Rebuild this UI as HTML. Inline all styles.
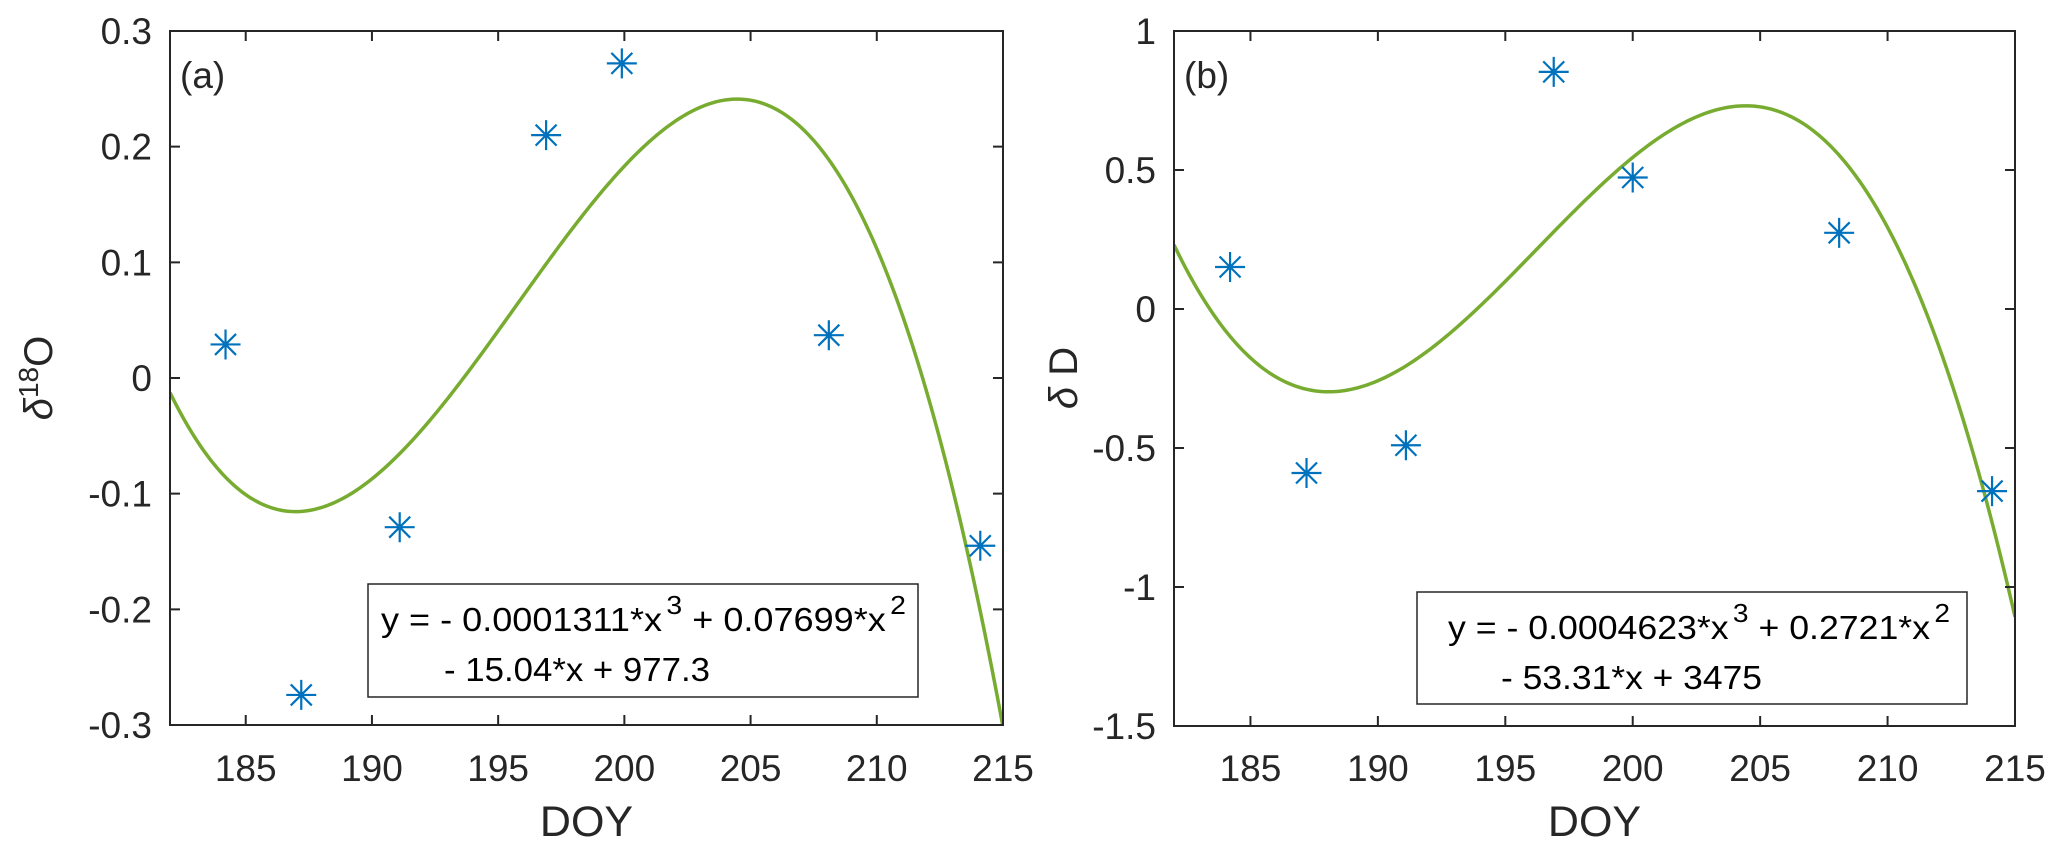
<!DOCTYPE html>
<html><head><meta charset="utf-8"><style>
html,body{margin:0;padding:0;background:#fff;}
svg{display:block;font-family:"Liberation Sans",sans-serif;}
</style></head><body>
<svg id="chart" width="2067" height="853" viewBox="0 0 2067 853" xmlns="http://www.w3.org/2000/svg"></svg>
<script>
const doyA = [184.2, 187.2, 191.1, 196.9, 199.9, 208.1, 214.1];
const d18O = [0.029, -0.274, -0.129, 0.21, 0.272, 0.037, -0.145];
const doyB = [184.2, 187.2, 191.1, 196.9, 200.0, 208.1, 214.1];
const dD = [0.151, -0.59, -0.49, 0.853, 0.473, 0.274, -0.655];
const xTicks = [185, 190, 195, 200, 205, 210, 215];
const yTicksA = [-0.3, -0.2, -0.1, 0, 0.1, 0.2, 0.3];
const yTickLabelsA = ["-0.3", "-0.2", "-0.1", "0", "0.1", "0.2", "0.3"];
const yTicksB = [-1.5, -1, -0.5, 0, 0.5, 1];
const yTickLabelsB = ["-1.5", "-1", "-0.5", "0", "0.5", "1"];

const NS = "http://www.w3.org/2000/svg";
const svg = document.getElementById("chart");
function mk(tag, attrs, parent) {
  const e = document.createElementNS(NS, tag);
  for (const k in attrs) e.setAttribute(k, attrs[k]);
  (parent || svg).appendChild(e);
  return e;
}
function cubicFit(xs, ys) {
  const m = xs.reduce((a, b) => a + b, 0) / xs.length;
  const A = [[0,0,0,0],[0,0,0,0],[0,0,0,0],[0,0,0,0]], B = [0,0,0,0];
  xs.forEach((x, i) => {
    const t = x - m, p = [1, t, t*t, t*t*t];
    for (let r = 0; r < 4; r++) { B[r] += p[r]*ys[i]; for (let c = 0; c < 4; c++) A[r][c] += p[r]*p[c]; }
  });
  for (let i = 0; i < 4; i++) {
    let piv = i; for (let r = i+1; r < 4; r++) if (Math.abs(A[r][i]) > Math.abs(A[piv][i])) piv = r;
    [A[i], A[piv]] = [A[piv], A[i]]; [B[i], B[piv]] = [B[piv], B[i]];
    for (let r = 0; r < 4; r++) if (r !== i) {
      const f = A[r][i] / A[i][i];
      for (let c = 0; c < 4; c++) A[r][c] -= f*A[i][c]; B[r] -= f*B[i];
    }
  }
  const co = B.map((b, i) => b / A[i][i]);
  return x => { const t = x - m; return co[0] + co[1]*t + co[2]*t*t + co[3]*t*t*t; };
}

function panel(cfg) {
  const g = mk("g", {});
  
  
  const X = v => cfg.x0 + (v - 182) / 33 * (cfg.x1 - cfg.x0);
  const Y = v => cfg.y1 - (v - cfg.ymin) / (cfg.ymax - cfg.ymin) * (cfg.y1 - cfg.y0);
  const cid = cfg.name + "-clip";
  const cp = mk("clipPath", {id: cid}, g);
  mk("rect", {x: cfg.x0, y: cfg.y0, width: cfg.x1 - cfg.x0, height: cfg.y1 - cfg.y0}, cp);
  const f = cubicFit(cfg.xs, cfg.ys);
  let d = "";
  for (let i = 0; i <= 300; i++) {
    const v = 182 + 33 * i / 300;
    d += (i ? "L" : "M") + X(v).toFixed(2) + "," + Y(f(v)).toFixed(2);
  }
  const curve = mk("path", {d: d, fill: "none", stroke: "#77AC30", "stroke-width": 3.5, "clip-path": "url(#" + cid + ")"}, g);
  
  
  cfg.xs.forEach((xv, i) => {
    const cx = X(xv), cy = Y(cfg.ys[i]), r = 15, q = 10.5;
    const s = mk("path", {d: `M${cx-r},${cy}H${cx+r}M${cx},${cy-r}V${cy+r}M${cx-q},${cy-q}L${cx+q},${cy+q}M${cx-q},${cy+q}L${cx+q},${cy-q}`, stroke: "#0072BD", "stroke-width": 2.2, fill: "none"}, g);
    
    
  });
  const box = mk("rect", {x: cfg.x0, y: cfg.y0, width: cfg.x1 - cfg.x0, height: cfg.y1 - cfg.y0, fill: "none", stroke: "#262626", "stroke-width": 2}, g);
  
  
  xTicks.forEach(t => {
    const x = X(t);
    mk("path", {d: `M${x},${cfg.y1}v-10M${x},${cfg.y0}v10`, stroke: "#262626", "stroke-width": 2}, g);
    const tl = mk("text", {x: x, y: 781, "font-size": 37, "text-anchor": "middle", fill: "#262626"}, g);
    tl.textContent = String(t);
    
    
  });
  cfg.yt.forEach((t, i) => {
    const y = Y(t);
    mk("path", {d: `M${cfg.x0},${y}h10M${cfg.x1},${y}h-10`, stroke: "#262626", "stroke-width": 2}, g);
    const tl = mk("text", {x: cfg.x0 - 18, y: y + 13, "font-size": 37, "text-anchor": "end", fill: "#262626"}, g);
    tl.textContent = cfg.ytl[i];
    
    
  });
  const xl = mk("text", {x: (cfg.x0 + cfg.x1) / 2, y: 836, "font-size": 43, "text-anchor": "middle", fill: "#262626"}, g);
  xl.textContent = "DOY";
  
  
  const pl = mk("text", {x: cfg.x0 + 10, y: 88, "font-size": 37, fill: "#262626"}, g);
  pl.textContent = cfg.label;
  
  
  const eb = mk("rect", {x: cfg.bx0, y: cfg.by0, width: cfg.bx1 - cfg.bx0, height: cfg.by1 - cfg.by0, fill: "#fff", stroke: "#262626", "stroke-width": 1.5}, g);
  
  
  const e1 = mk("text", {x: cfg.l1x, y: cfg.by0 + 47, "font-size": 33, fill: "#000", textLength: cfg.l1w, lengthAdjust: "spacingAndGlyphs"}, g);
  e1.innerHTML = cfg.eq1;
  
  
  const e2 = mk("text", {x: cfg.l2x, y: cfg.by0 + 97, "font-size": 33, fill: "#000", textLength: cfg.l2w, lengthAdjust: "spacingAndGlyphs"}, g);
  e2.textContent = cfg.eq2;
  
  
}

panel({name: "panel-a", x0: 170, x1: 1003, y0: 31, y1: 725, ymin: -0.3, ymax: 0.3,
  xs: doyA, ys: d18O, yt: yTicksA, ytl: yTickLabelsA, label: "(a)",
  bx0: 368, bx1: 918, by0: 584, by1: 697, l1x: 381, l1w: 525, l2x: 444, l2w: 266,
  eq1: 'y = - 0.0001311*x<tspan dx="4" dy="-17" font-size="26">3</tspan><tspan dy="17"> + 0.07699*x</tspan><tspan dx="4" dy="-17" font-size="26">2</tspan>',
  eq2: "- 15.04*x + 977.3"});
panel({name: "panel-b", x0: 1174, x1: 2015, y0: 31, y1: 726, ymin: -1.5, ymax: 1,
  xs: doyB, ys: dD, yt: yTicksB, ytl: yTickLabelsB, label: "(b)",
  bx0: 1417, bx1: 1967, by0: 592, by1: 704, l1x: 1448, l1w: 502, l2x: 1501, l2w: 261,
  eq1: 'y = - 0.0004623*x<tspan dx="4" dy="-17" font-size="26">3</tspan><tspan dy="17"> + 0.2721*x</tspan><tspan dx="4" dy="-17" font-size="26">2</tspan>',
  eq2: "- 53.31*x + 3475"});

const ya = mk("text", {transform: "translate(52,378) rotate(-90)", "font-size": 40, "text-anchor": "middle", fill: "#262626"});
ya.innerHTML = '<tspan font-style="italic">δ</tspan><tspan dy="-14" font-size="28">18</tspan><tspan dy="14">O</tspan>';


const yb = mk("text", {transform: "translate(1077,378) rotate(-90)", "font-size": 40, "text-anchor": "middle", fill: "#262626"});
yb.innerHTML = '<tspan font-style="italic">δ</tspan> D';


</script>
</body></html>
